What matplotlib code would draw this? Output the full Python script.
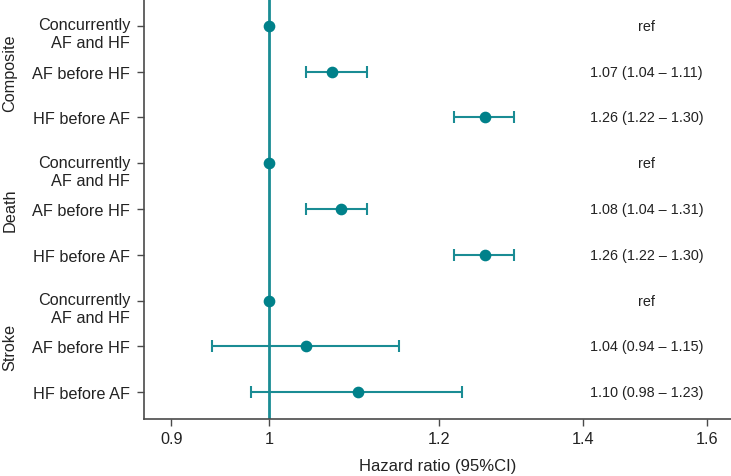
import matplotlib
matplotlib.use("Agg")
import matplotlib.pyplot as plt
import matplotlib.transforms as mtransforms
from matplotlib.ticker import FixedLocator, NullLocator

plt.rcParams['font.family'] = ['Liberation Sans', 'DejaVu Sans']

groups = ["Composite", "Death", "Stroke"]
rows = ["Concurrently\nAF and HF", "AF before HF", "HF before AF"]
hr = [1.00, 1.07, 1.26, 1.00, 1.08, 1.26, 1.00, 1.04, 1.10]
lo = [None, 1.04, 1.22, None, 1.04, 1.22, None, 0.94, 0.98]
hi = [None, 1.11, 1.30, None, 1.11, 1.30, None, 1.15, 1.23]
labels = ["ref", "1.07 (1.04 – 1.11)", "1.26 (1.22 – 1.30)",
          "ref", "1.08 (1.04 – 1.31)", "1.26 (1.22 – 1.30)",
          "ref", "1.04 (0.94 – 1.15)", "1.10 (0.98 – 1.23)"]
xticks = [0.9, 1, 1.2, 1.4, 1.6]
xticklabels = ["0.9", "1", "1.2", "1.4", "1.6"]

teal_line = "#1a8c94"
teal_pt = "#00818a"
spine_c = "#4a4a4a"

fig = plt.figure(figsize=(7.31, 4.77), dpi=100)
ax = fig.add_axes([144 / 731, 57 / 477, 1 - 144 / 731, 420 / 477])

n = len(hr)
ys = list(range(n))

ax.axvline(1.0, color=teal_line, lw=2, zorder=1)

for i in range(n):
    if lo[i] is not None:
        ax.errorbar(hr[i], ys[i], xerr=[[hr[i] - lo[i]], [hi[i] - hr[i]]],
                    fmt='none', ecolor=teal_line, elinewidth=1.5,
                    capsize=4, capthick=1.5, zorder=2)
    ax.plot(hr[i], ys[i], 'o', color=teal_pt, markersize=7.4, zorder=3)
    ax.text(1.5, ys[i], labels[i], ha='center', va='center',
            fontsize=10.4, color='#222222')

ax.set_xscale('log')
ax.set_xlim(0.874, 1.642)
ax.set_ylim(n - 1 + 0.59, -0.59)
ax.xaxis.set_major_locator(FixedLocator(xticks))
ax.xaxis.set_minor_locator(NullLocator())
ax.set_xticklabels(xticklabels)

ax.set_yticks(ys)
ax.set_yticklabels(rows * len(groups), ha='right')

for sp in ['top', 'right']:
    ax.spines[sp].set_visible(False)
for sp in ['left', 'bottom']:
    ax.spines[sp].set_color(spine_c)
    ax.spines[sp].set_linewidth(1.2)

ax.tick_params(axis='both', colors=spine_c, length=5, width=1, labelsize=11.7,
               labelcolor='#222222')
ax.tick_params(axis='y', pad=5)
ax.tick_params(axis='x', pad=4)

off = mtransforms.ScaledTranslation(0, -5 / 100, fig.dpi_scale_trans)
for lab in ax.get_yticklabels():
    if "\n" in lab.get_text():
        lab.set_linespacing(1.25)
        lab.set_transform(lab.get_transform() + off)

ax.set_xlabel("Hazard ratio (95%CI)", fontsize=12, color='#222222', labelpad=8)

for g, name in enumerate(groups):
    yc = g * 3 + 1
    ax.text(10 / 731, yc, name, rotation=90, ha='center', va='center',
            fontsize=11.7, color='#222222',
            transform=mtransforms.blended_transform_factory(fig.transFigure, ax.transData))

fig.savefig("out.png", dpi=100)
